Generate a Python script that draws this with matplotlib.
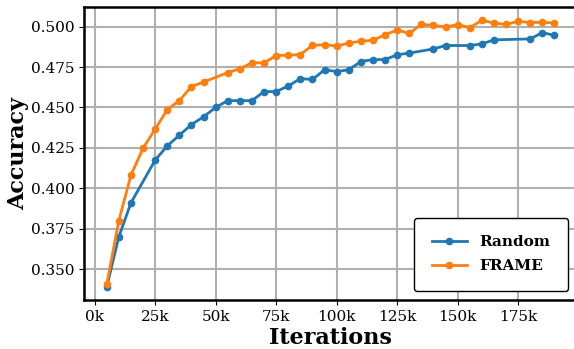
import matplotlib
matplotlib.use("Agg")
import matplotlib.pyplot as plt
from matplotlib.ticker import FuncFormatter, MultipleLocator

# Evaluation accuracy over training iterations
random_iters = [5000, 10000, 15000, 25000, 30000, 35000, 40000, 45000, 50000,
                55000, 60000, 65000, 70000, 75000, 80000, 85000, 90000, 95000,
                100000, 105000, 110000, 115000, 120000, 125000, 130000, 140000,
                145000, 155000, 160000, 165000, 180000, 185000, 190000]
random_acc = [0.3390, 0.3700, 0.3910, 0.4174, 0.4262, 0.4328, 0.4394, 0.4442,
              0.4500, 0.4542, 0.4542, 0.4542, 0.4598, 0.4598, 0.4633, 0.4678,
              0.4673, 0.4733, 0.4722, 0.4733, 0.4784, 0.4796, 0.4796, 0.4826,
              0.4836, 0.4862, 0.4883, 0.4883, 0.4893, 0.4918, 0.4924, 0.4963,
              0.4946]

frame_iters = [5000, 10000, 15000, 20000, 25000, 30000, 35000, 40000, 45000,
               55000, 60000, 65000, 70000, 75000, 80000, 85000, 90000, 95000,
               100000, 105000, 110000, 115000, 120000, 125000, 130000, 135000,
               140000, 145000, 150000, 155000, 160000, 165000, 170000, 175000,
               180000, 185000, 190000]
frame_acc = [0.3406, 0.3800, 0.4081, 0.4247, 0.4366, 0.4486, 0.4542, 0.4629,
             0.4657, 0.4716, 0.4739, 0.4776, 0.4776, 0.4821, 0.4823, 0.4827,
             0.4884, 0.4888, 0.4880, 0.4898, 0.4910, 0.4915, 0.4950, 0.4979,
             0.4958, 0.5014, 0.5008, 0.4998, 0.5012, 0.4994, 0.5039, 0.5022,
             0.5014, 0.5033, 0.5025, 0.5027, 0.5022]

plt.rcParams["font.family"] = ["DejaVu Serif"]

fig = plt.figure(figsize=(5.74, 3.49), dpi=100)
# the axes run slightly past the right edge of the canvas
ax = fig.add_axes([0.147, 0.14, 0.858, 0.84])

ax.plot(random_iters, random_acc, color="#1f77b4", marker="o", markersize=4.5,
        linewidth=2, label="Random")
ax.plot(frame_iters, frame_acc, color="#ff7f0e", marker="o", markersize=4.5,
        linewidth=2, label="FRAME")

ax.xaxis.set_major_locator(MultipleLocator(25000))
ax.xaxis.set_major_formatter(FuncFormatter(lambda v, _: f"{int(round(v / 1000))}k"))
ax.yaxis.set_major_locator(MultipleLocator(0.025))
ax.yaxis.set_major_formatter(FuncFormatter(lambda v, _: f"{v:.3f}"))

ax.grid(True, color="#b0b0b0", linewidth=1.5)
ax.set_axisbelow(True)
ax.tick_params(labelsize=11)

for side in ("left", "bottom", "top"):
    ax.spines[side].set_linewidth(1.8)
    ax.spines[side].set_color("black")
ax.spines["right"].set_linewidth(1.0)

ax.set_xlabel("Iterations", fontsize=16, fontweight="bold", labelpad=2)
ax.set_ylabel("Accuracy", fontsize=16, fontweight="bold", labelpad=1)

leg = ax.legend(loc="lower right", prop={"weight": "bold", "size": 11},
                handlelength=2.3, borderpad=1.15, labelspacing=0.65,
                bbox_to_anchor=(1.0, 0.0), borderaxespad=0.6)
leg.get_frame().set_edgecolor("black")
leg.get_frame().set_linewidth(1.0)
leg.get_frame().set_alpha(1.0)

fig.savefig("out.png", dpi=100)
